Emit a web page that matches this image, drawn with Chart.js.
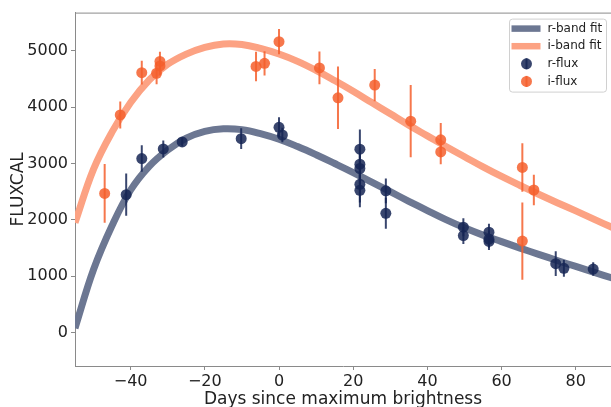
<!DOCTYPE html>
<html>
<head>
<meta charset="utf-8">
<script src="https://cdn.jsdelivr.net/npm/chart.js@4.4.0/dist/chart.umd.min.js"></script>
<style>
    html, body { margin: 0; padding: 0; background: #fff; }
    #wrap { position: relative; width: 611px; height: 407px; }
</style>
</head>
<body>
<div id="wrap"><canvas id="lightCurve"></canvas></div>
<script>
// Observed fluxes (days since peak, FLUXCAL, 1-sigma error)
const rDays = [-41.2, -37.0, -31.2, -26.1, -10.2, 0.0, 0.9, 21.8, 21.8, 21.8, 21.8, 21.8, 28.8, 28.8, 49.7, 49.7, 56.6, 56.6, 56.6, 74.6, 76.8, 84.7];
const rFlux = [2447, 3087, 3258, 3382, 3440, 3641, 3505, 3253, 2988, 2911, 2630, 2525, 2515, 2117, 1870, 1723, 1782, 1658, 1618, 1224, 1141, 1129];
const rErr  = [375, 235, 150, 80, 185, 180, 130, 350, 300, 280, 320, 300, 220, 275, 160, 150, 150, 150, 150, 220, 150, 120];

const iDays = [-47.0, -42.8, -37.0, -33.0, -32.1, -32.1, -6.2, -3.9, 0.0, 10.9, 15.9, 25.8, 35.5, 43.6, 43.6, 65.6, 65.6, 68.7];
const iFlux = [2470, 3860, 4610, 4600, 4730, 4810, 4720, 4775, 5160, 4695, 4165, 4390, 3750, 3420, 3205, 2930, 1625, 2530];
const iErr  = [520, 240, 210, 195, 170, 170, 260, 215, 225, 290, 555, 285, 640, 300, 220, 430, 685, 270];

// Fitted light curves
const fitDays = [-55, -50, -45, -40, -35, -30, -25, -20, -15, -10, -5, 0, 5, 10, 15, 20, 25, 30, 35, 40, 45, 50, 55, 60, 65, 70, 75, 80, 85, 90];
const rFit = [80, 1120, 1900, 2530, 2950, 3240, 3450, 3570, 3615, 3600, 3530, 3430, 3300, 3155, 3000, 2840, 2670, 2500, 2330, 2165, 2005, 1860, 1730, 1615, 1500, 1390, 1280, 1175, 1070, 965];
const iFit = [1950, 2900, 3560, 4080, 4480, 4760, 4940, 5060, 5120, 5110, 5040, 4940, 4810, 4650, 4470, 4280, 4080, 3880, 3680, 3490, 3300, 3120, 2940, 2770, 2610, 2455, 2305, 2160, 2010, 1860];

const xTicks = [-40, -20, 0, 20, 40, 60, 80];
const yTicks = [0, 1000, 2000, 3000, 4000, 5000];

const FONT = "'DejaVu Sans', sans-serif";
const SPINE = '#8a8a8a';
const TEXT = '#222';

function toPoints(xs, ys) {
    return xs.map((x, k) => ({ x: x, y: ys[k] }));
}

function minusLabel(v) {
    return v < 0 ? '\u2212' + Math.abs(v) : String(v);
}

/**
 * Vertical error bars, drawn just before each flux dataset's markers
 */
const errorBars = {
    id: 'errorBars',
    beforeDatasetDraw(chart, args) {
        const ds = chart.data.datasets[args.index];
        if (!ds.yErr) return;
        const { ctx, chartArea, scales: { x, y } } = chart;
        ctx.save();
        ctx.beginPath();
        ctx.rect(chartArea.left, chartArea.top, chartArea.right - chartArea.left, chartArea.bottom - chartArea.top);
        ctx.clip();
        ctx.strokeStyle = ds.backgroundColor;
        ctx.lineWidth = 2;
        ds.data.forEach((p, k) => {
            const px = x.getPixelForValue(p.x);
            ctx.beginPath();
            ctx.moveTo(px, y.getPixelForValue(p.y - ds.yErr[k]));
            ctx.lineTo(px, y.getPixelForValue(p.y + ds.yErr[k]));
            ctx.stroke();
        });
        ctx.restore();
    }
};

/**
 * Top spine and matplotlib-style legend box
 */
const frameAndLegend = {
    id: 'frameAndLegend',
    afterDraw(chart) {
        const { ctx, chartArea } = chart;
        ctx.save();
        ctx.strokeStyle = SPINE;
        ctx.lineWidth = 1;
        ctx.beginPath();
        ctx.moveTo(chartArea.left, chartArea.top + 0.5);
        ctx.lineTo(chartArea.right, chartArea.top + 0.5);
        ctx.stroke();

        const w = 97, h = 73;
        const bx = chartArea.right - 5 - w + 0.5;
        const by = chartArea.top + 6 + 0.5;
        ctx.beginPath();
        ctx.roundRect(bx, by, w, h, 3);
        ctx.fillStyle = 'rgba(255,255,255,0.8)';
        ctx.fill();
        ctx.strokeStyle = '#d0d0d0';
        ctx.stroke();

        ctx.font = '12px ' + FONT;
        ctx.textBaseline = 'middle';
        chart.data.datasets.forEach((ds, k) => {
            const cy = by + 9.5 + k * 17.6;
            if (ds.yErr) {
                ctx.fillStyle = ds.backgroundColor;
                ctx.beginPath();
                ctx.arc(bx + 17, cy, 5.5, 0, Math.PI * 2);
                ctx.fill();
                ctx.strokeStyle = ds.backgroundColor;
                ctx.lineWidth = 2;
                ctx.beginPath();
                ctx.moveTo(bx + 17, cy - 5.5);
                ctx.lineTo(bx + 17, cy + 5.5);
                ctx.stroke();
            } else {
                ctx.strokeStyle = ds.borderColor;
                ctx.lineWidth = 6.5;
                ctx.beginPath();
                ctx.moveTo(bx + 2, cy);
                ctx.lineTo(bx + 31, cy);
                ctx.stroke();
            }
            ctx.fillStyle = TEXT;
            ctx.fillText(ds.label, bx + 38, cy);
        });
        ctx.restore();
    }
};

const ctx = document.getElementById('lightCurve').getContext('2d');
new Chart(ctx, {
    type: 'line',
    data: {
        datasets: [
            {
                label: 'r-band fit',
                data: toPoints(fitDays, rFit),
                borderColor: '#6c7792',
                borderWidth: 7,
                pointRadius: 0,
                tension: 0.4,
                order: 4
            },
            {
                label: 'i-band fit',
                data: toPoints(fitDays, iFit),
                borderColor: '#fca283',
                borderWidth: 7,
                pointRadius: 0,
                tension: 0.4,
                order: 3
            },
            {
                type: 'scatter',
                label: 'r-flux',
                data: toPoints(rDays, rFlux),
                yErr: rErr,
                backgroundColor: 'rgba(22,38,85,0.85)',
                pointRadius: 5.5,
                borderWidth: 0,
                order: 2
            },
            {
                type: 'scatter',
                label: 'i-flux',
                data: toPoints(iDays, iFlux),
                yErr: iErr,
                backgroundColor: 'rgba(245,95,45,0.85)',
                pointRadius: 5.5,
                borderWidth: 0,
                order: 1
            }
        ]
    },
    options: {
        responsive: true,
        maintainAspectRatio: false,
        animation: false,
        layout: { autoPadding: false, padding: { top: 11, right: 0, bottom: 0, left: 0 } },
        plugins: {
            legend: { display: false },
            tooltip: { enabled: false }
        },
        scales: {
            x: {
                type: 'linear',
                min: -55,
                max: 89.5,
                afterBuildTicks: (scale) => { scale.ticks = xTicks.map(v => ({ value: v })); },
                afterFit: (scale) => { scale.height = 41; },
                ticks: {
                    font: { family: FONT, size: 16 },
                    color: TEXT,
                    padding: 2,
                    maxRotation: 0,
                    autoSkip: false,
                    callback: minusLabel
                },
                grid: { drawOnChartArea: false, drawTicks: true, tickLength: 4, tickColor: SPINE },
                border: { color: SPINE, width: 1 },
                title: {
                    display: true,
                    text: 'Days since maximum brightness',
                    font: { family: FONT, size: 17 },
                    color: TEXT,
                    padding: { top: 0, bottom: -3 }
                }
            },
            y: {
                min: -590,
                max: 5675,
                afterBuildTicks: (scale) => { scale.ticks = yTicks.map(v => ({ value: v })); },
                afterFit: (scale) => { scale.width = 75; },
                ticks: {
                    font: { family: FONT, size: 16 },
                    color: TEXT,
                    padding: 3,
                    callback: minusLabel
                },
                grid: { drawOnChartArea: false, drawTicks: true, tickLength: 4, tickColor: SPINE },
                border: { color: SPINE, width: 1 },
                title: {
                    display: true,
                    text: 'FLUXCAL',
                    font: { family: FONT, size: 17 },
                    color: TEXT,
                    padding: { top: 8, bottom: 0 }
                }
            }
        }
    },
    plugins: [errorBars, frameAndLegend]
});
</script>
</body>
</html>
